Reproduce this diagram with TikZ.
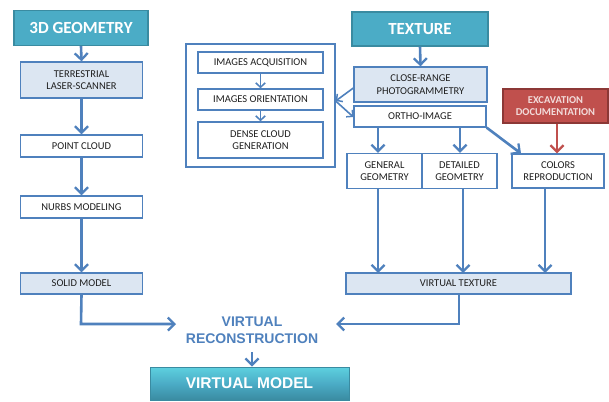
\documentclass[tikz,border=0pt]{standalone}
\usepackage{fontspec}
\setmainfont{Carlito}
\newfontfamily\arialf{Liberation Sans}
\usetikzlibrary{arrows.meta}
\definecolor{teal}{HTML}{4BACC6}
\definecolor{tealdark}{HTML}{3A8BA1}
\definecolor{lblue}{HTML}{DCE6F2}
\definecolor{mblue}{HTML}{4F81BD}
\definecolor{redf}{HTML}{C0504D}
\definecolor{redd}{HTML}{8C3836}
\definecolor{pinkt}{HTML}{F2DCDB}
\definecolor{txt}{HTML}{1F1F1F}
\begin{document}
\begin{tikzpicture}[x=1pt,y=-1pt,
  box/.style={draw=mblue,line width=1.3pt,fill=white,inner sep=1pt,align=center,text=txt,font=\fontsize{10.5}{12.5}\selectfont},
  lbox/.style={box,fill=lblue},
  head/.style={draw=tealdark,line width=1.2pt,fill=teal,text=white,font=\fontsize{17}{20}\selectfont\bfseries},
  redbox/.style={draw=redd,line width=1.2pt,fill=redf,text=pinkt,align=center,font=\fontsize{10.5}{12.5}\selectfont\bfseries,inner sep=1pt},
  arr/.style={draw=mblue,line width=2.6pt,-{Straight Barb[length=6.5pt,width=13pt,line width=2.3pt]}},
  sarr/.style={draw=mblue,line width=1.6pt,-{Straight Barb[length=4.5pt,width=9.5pt,line width=1.5pt]}},
  rarr/.style={draw=redf,line width=2.6pt,-{Straight Barb[length=6.5pt,width=13pt,line width=2.3pt]}}
]
\useasboundingbox[fill=white] (0,0) rectangle (609,401);

% left column
\node[head,minimum width=134pt,minimum height=35pt] (geo) at (81,28) {3D GEOMETRY};
\node[lbox,minimum width=122pt,minimum height=36pt] (tls) at (81.5,80) {TERRESTRIAL\\LASER-SCANNER};
\node[box,minimum width=122pt,minimum height=22pt] (pc) at (81.5,146) {POINT CLOUD};
\node[box,minimum width=122pt,minimum height=22pt] (nurbs) at (81.5,207) {NURBS MODELING};
\node[lbox,minimum width=122pt,minimum height=21pt] (solid) at (81.5,283.5) {SOLID MODEL};

% middle framed group
\node[draw=mblue,line width=1.3pt,minimum width=149pt,minimum height=123pt] (grp) at (260.5,105.5) {};
\node[box,minimum width=125pt,minimum height=21pt] (acq) at (260.5,62.5) {IMAGES ACQUISITION};
\node[box,minimum width=125pt,minimum height=21pt] (ori) at (260.5,99.5) {IMAGES ORIENTATION};
\node[box,minimum width=125pt,minimum height=36pt] (dense) at (260.5,140) {DENSE CLOUD\\GENERATION};

% right part
\node[head,minimum width=136pt,minimum height=34pt] (tex) at (420,29) {TEXTURE};
\node[lbox,minimum width=133pt,minimum height=35pt] (crp) at (420.5,84.5) {CLOSE-RANGE\\PHOTOGRAMMETRY};
\node[box,minimum width=132pt,minimum height=21pt] (ortho) at (420,116.5) {ORTHO-IMAGE};
\node[redbox,minimum width=105pt,minimum height=34pt] (exc) at (555.5,106) {EXCAVATION\\DOCUMENTATION};
\node[box,minimum width=75pt,minimum height=35pt] (gen) at (384.5,171) {GENERAL\\GEOMETRY};
\node[box,minimum width=75pt,minimum height=35pt] (det) at (459.5,171) {DETAILED\\GEOMETRY};
\node[box,minimum width=92pt,minimum height=34pt] (col) at (558,171) {COLORS\\REPRODUCTION};
\node[lbox,minimum width=225pt,minimum height=21pt] (vt) at (458.5,283.5) {VIRTUAL TEXTURE};

% bottom
\node[text=mblue,align=center,font=\arialf\fontsize{14}{16.5}\selectfont\bfseries] (vr) at (252,330) {VIRTUAL\\RECONSTRUCTION};
\node[draw=tealdark,line width=0.8pt,top color=teal!70!cyan!80!white,bottom color=tealdark,middle color=teal,minimum width=199pt,minimum height=33pt,text=white,font=\arialf\fontsize{15.5}{18}\selectfont\bfseries] (vm) at (249.5,383.5) {VIRTUAL MODEL};

% arrows left column
\draw[arr] (geo.south) -- (tls.north);
\draw[arr] (tls.south) -- (pc.north);
\draw[arr] (pc.south) -- (nurbs.north);
\draw[arr] (nurbs.south) -- (solid.north);
\coordinate (c1) at (81,324);
\draw[arr] (solid.south) -- (c1) -- (176,324);

% group arrows
\draw[sarr] (acq.south) -- (ori.north);
\draw[sarr] (ori.south) -- (dense.north);
\coordinate (gj) at (grp.east |- 0,101);
\draw[sarr] (crp.west |- 0,88) -- (gj);
\draw[sarr] (gj) -- (ortho.west |- 0,117);

% right arrows
\draw[arr] (tex.south) -- (crp.north);
\draw[arr] (378,127) -- (gen.north -| 378,0);
\draw[arr] (460,127) -- (det.north -| 460,0);
\draw[arr] (ortho.south east) -- (521,153.5);
\draw[rarr] (exc.south -| 557,0) -- (col.north -| 557,0);
\draw[arr] (378,188.5) -- (378,273);
\draw[arr] (463,188.5) -- (463,273);
\draw[arr] (545,188.5) -- (545,273);
\coordinate (c2) at (459,324);
\draw[arr] (vt.south -| 459,0) -- (c2) -- (336,324);
\draw[arr] (252,352) -- (vm.north -| 252,0);
\end{tikzpicture}
\end{document}
